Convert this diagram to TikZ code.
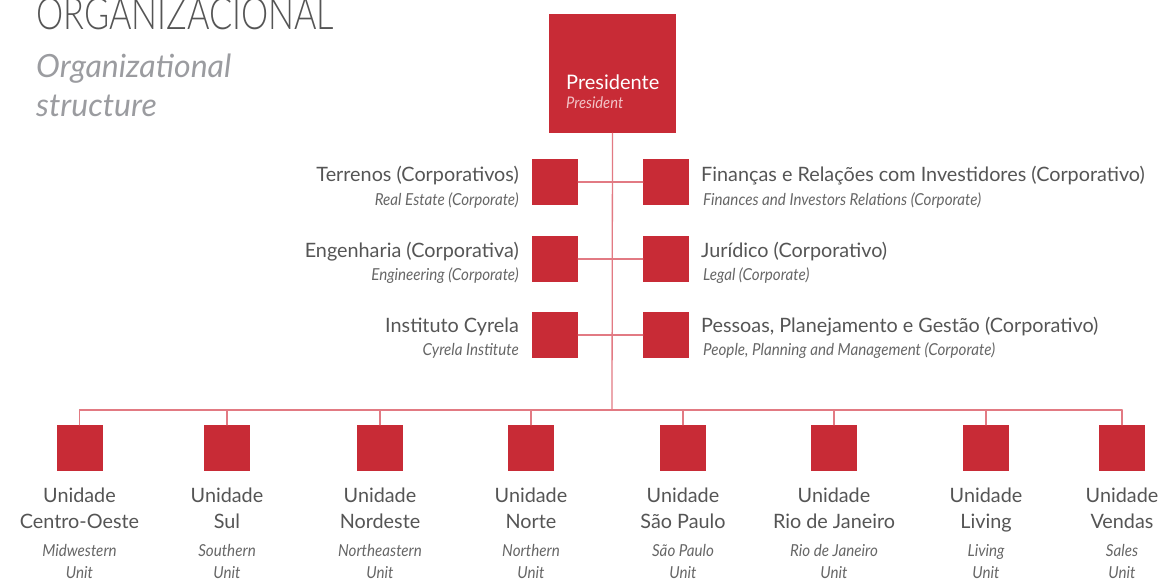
\documentclass[tikz,border=0pt]{standalone}
\usepackage{fontspec}
\setmainfont{Lato}
\IfFontExistsTF{Lato Light}{\newfontfamily\thinfont{Lato Light}}{\newfontfamily\thinfont{Lato}}
\newfontfamily\subfont[FakeStretch=0.92]{Lato}
\usepackage{tikz}
\usetikzlibrary{positioning}
\definecolor{cyred}{HTML}{C82B36}
\definecolor{cyline}{HTML}{E27A83}
\definecolor{cygray}{HTML}{555555}
\definecolor{cysub}{HTML}{666666}
\definecolor{cytitle}{HTML}{9B9CA0}
\definecolor{cypink}{HTML}{F2C4C8}

\begin{document}
\begin{tikzpicture}[x=1pt,y=-1pt, line cap=round, line join=round,
    box/.style={fill=cyred, minimum width=46, minimum height=46, inner sep=0},
    link/.style={draw=cyline, line width=1.3pt},
    lbl/.style={text=cygray, font=\fontsize{19.8}{21}\selectfont, inner sep=0},
    sub/.style={text=cysub, font=\subfont\itshape\fontsize{16.5}{18}\selectfont, inner sep=0}]
    \useasboundingbox (0,0) rectangle (1166,580);
    \clip (0,0) rectangle (1166,580);

    % title
    \node[anchor=base west, inner sep=0, text=cygray, font=\thinfont\fontsize{44}{44}\selectfont] (title) at (36,30) {\scalebox{0.78}[1]{ORGANIZACIONAL}};
    \node[anchor=base west, inner sep=0, text=cytitle, font=\itshape\fontsize{32}{32}\selectfont] (titleA) at (36,78) {Organizational};
    \node[anchor=base west, inner sep=0, text=cytitle, font=\itshape\fontsize{32}{32}\selectfont] (titleB) at (36,117) {structure};

    % president
    \node[box, minimum width=127, minimum height=119] (pres) at (612.5,73.5) {};
    \node[anchor=base west, inner sep=0, text=white, font=\fontsize{20}{22}\selectfont] (presA) at (566,90) {Presidente};
    \node[anchor=base west, inner sep=0, text=cypink, font=\subfont\itshape\fontsize{16}{18}\selectfont] (presB) at (566,109) {President};

    % corporate areas
    \node[box] (t1) at (555,182) {};
    \node[box] (f1) at (666,182) {};
    \node[box] (t2) at (555,259) {};
    \node[box] (f2) at (666,259) {};
    \node[box] (t3) at (555,335) {};
    \node[box] (f3) at (666,335) {};

    \node[lbl, anchor=base east] (t1a) at (519,182) {Terrenos (Corporativos)};
    \node[sub, anchor=base east] (t1b) at (519,205) {Real Estate (Corporate)};
    \node[lbl, anchor=base east] (t2a) at (519,257) {Engenharia (Corporativa)};
    \node[sub, anchor=base east] (t2b) at (519,280) {Engineering (Corporate)};
    \node[lbl, anchor=base east] (t3a) at (519,332) {Instituto Cyrela};
    \node[sub, anchor=base east] (t3b) at (519,355) {Cyrela Institute};

    \node[lbl, anchor=base west] (f1a) at (701,182) {Finanças e Relações com Investidores (Corporativo)};
    \node[sub, anchor=base west] (f1b) at (703,205) {Finances and Investors Relations (Corporate)};
    \node[lbl, anchor=base west] (f2a) at (701,257) {Jurídico (Corporativo)};
    \node[sub, anchor=base west] (f2b) at (703,280) {Legal (Corporate)};
    \node[lbl, anchor=base west] (f3a) at (701,332) {Pessoas, Planejamento e Gestão (Corporativo)};
    \node[sub, anchor=base west] (f3b) at (703,355) {People, Planning and Management (Corporate)};

    \coordinate (bus) at (612,410);
    \draw[link] (pres.south) -- (bus);
    \foreach \r in {1,2,3}
        \draw[link] (t\r.east) -- (f\r.west);

    % units
    \foreach \n/\x/\pt/\en in {1/79.5/Centro-Oeste/Midwestern, 2/227/Sul/Southern,
        3/380/Nordeste/Northeastern, 4/531/Norte/Northern, 5/683/São Paulo/São Paulo,
        6/834/Rio de Janeiro/Rio de Janeiro, 7/986/Living/Living, 8/1122/Vendas/Sales}{
        \node[box] (u\n) at (\x,448) {};
        \node[lbl, anchor=base] (u\n a) at (\x,502) {Unidade};
        \node[lbl, anchor=base] (u\n b) at (\x,528) {\pt};
        \node[sub, anchor=base] (u\n c) at (\x,556) {\en};
        \node[sub, anchor=base] (u\n d) at (\x,578) {Unit};
        \draw[link] (u\n.north) -- (u\n.north |- bus);
    }
    \draw[link] (u1.north |- bus) -- (u8.north |- bus);
\end{tikzpicture}
\end{document}
